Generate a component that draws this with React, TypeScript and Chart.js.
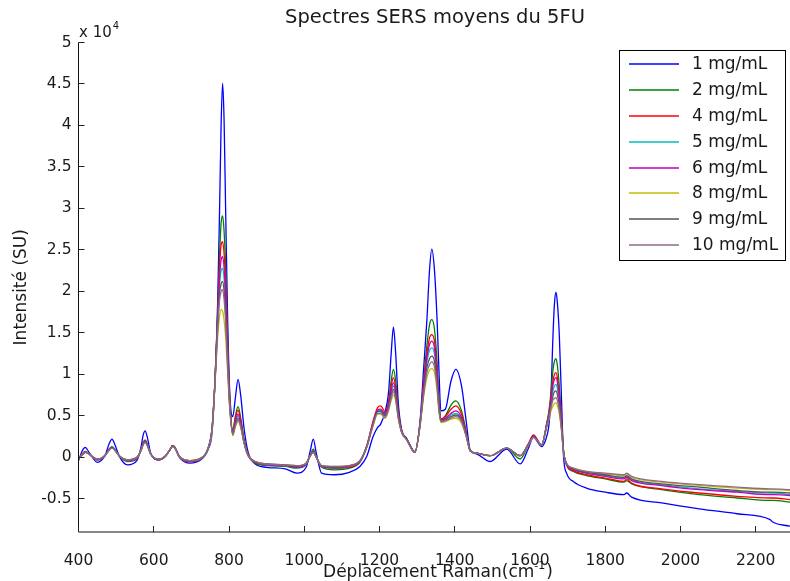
import React, { useEffect, useRef } from 'react';
import { Chart, registerables } from 'chart.js';

Chart.register(...registerables);

const TITLE = 'Spectres SERS moyens du 5FU';
const X_LABEL = 'Déplacement Raman(cm';
const X_LABEL_SUP = '-1';
const X_LABEL_END = ')';
const Y_LABEL = 'Intensité (SU)';
const Y_EXP_BASE = 'x 10';
const Y_EXP = '4';

const X_MIN = 400;
const X_MAX = 2291;
const X_STEP = 200;
const Y_MIN = -0.9;
const Y_MAX = 5;
const Y_STEP = 0.5;

// Raman shift (cm-1)
const RAMAN_SHIFT = [
  400, 410, 418, 428, 450, 470, 482, 489, 496, 510, 530, 555, 566, 572, 577, 583, 592, 612, 632, 644, 650, 656, 668, 696, 725,
  745, 755, 763, 770, 775, 779, 783, 787, 791, 796, 802, 810, 817, 824, 831, 840, 851,
  870, 900, 950, 980, 1005, 1016, 1024, 1032, 1046, 1080, 1120, 1148, 1166, 1183,
  1195, 1203, 1215, 1224, 1231, 1237, 1243, 1250, 1259, 1272, 1294,
  1308, 1317, 1326, 1333, 1339, 1346, 1353, 1358, 1363, 1375, 1390, 1403, 1418, 1430, 1441, 1459,
  1494, 1538, 1574, 1595, 1609, 1631, 1645, 1650, 1655, 1661, 1665, 1669, 1673, 1678, 1684, 1689, 1698,
  1715, 1750, 1800, 1850, 1857, 1870, 1950, 2050, 2150, 2238, 2245, 2291,
];

// Intensities in units of 10^4 SU
const I_1MG = [
  -0.04, 0.08, 0.12, 0.06, -0.06, 0.02, 0.17, 0.22, 0.16, 0.00, -0.09, -0.04, 0.12, 0.27, 0.32, 0.24, 0.05, -0.03, 0.02, 0.10, 0.13, 0.11, 0.00, -0.07, -0.03,
  0.10, 0.30, 0.95, 1.90, 3.00, 4.00, 4.51, 4.05, 3.00, 1.75, 0.78, 0.49, 0.72, 0.94, 0.75, 0.35, 0.06,
  -0.08, -0.12, -0.14, -0.19, -0.12, 0.08, 0.22, 0.05, -0.19, -0.21, -0.18, -0.11, 0.01, 0.25,
  0.36, 0.40, 0.55, 0.78, 1.25, 1.57, 1.25, 0.65, 0.33, 0.23, 0.07,
  0.45, 1.05, 1.66, 2.26, 2.51, 2.26, 1.66, 1.05, 0.56, 0.58, 0.92, 1.06, 0.86, 0.45, 0.09, 0.04,
  -0.05, 0.10, -0.08, 0.10, 0.24, 0.13, 0.26, 0.38, 0.66, 1.46, 1.85, 1.99, 1.85, 1.46, 0.66, 0.02, -0.20,
  -0.29, -0.37, -0.42, -0.45, -0.43, -0.48, -0.55, -0.62, -0.68, -0.75, -0.78, -0.83,
];
const I_2MG = [
  -0.02, 0.04, 0.07, 0.04, -0.03, 0.02, 0.10, 0.13, 0.10, 0.01, -0.05, -0.02, 0.09, 0.18, 0.21, 0.16, 0.04, -0.03, 0.02, 0.10, 0.14, 0.12, 0.01, -0.05, -0.02,
  0.12, 0.35, 0.95, 1.75, 2.45, 2.82, 2.91, 2.72, 2.30, 1.50, 0.72, 0.33, 0.50, 0.61, 0.48, 0.22, 0.03,
  -0.07, -0.10, -0.11, -0.13, -0.09, 0.03, 0.10, 0.01, -0.12, -0.15, -0.13, -0.06, 0.12, 0.40,
  0.56, 0.57, 0.52, 0.66, 0.92, 1.06, 0.92, 0.56, 0.32, 0.22, 0.06,
  0.42, 0.90, 1.35, 1.60, 1.66, 1.55, 1.15, 0.70, 0.46, 0.50, 0.63, 0.68, 0.56, 0.32, 0.08, 0.05,
  0.02, 0.11, -0.02, 0.14, 0.25, 0.15, 0.42, 0.55, 0.75, 1.05, 1.16, 1.19, 1.10, 0.85, 0.45, 0.09, -0.10,
  -0.17, -0.22, -0.26, -0.30, -0.28, -0.32, -0.39, -0.45, -0.49, -0.52, -0.52, -0.54,
];
const I_4MG = [
  -0.02, 0.04, 0.07, 0.04, -0.03, 0.02, 0.10, 0.12, 0.09, 0.01, -0.04, -0.01, 0.09, 0.17, 0.20, 0.15, 0.04, -0.03, 0.02, 0.10, 0.14, 0.12, 0.01, -0.05, -0.02,
  0.12, 0.36, 0.95, 1.72, 2.30, 2.56, 2.60, 2.45, 2.10, 1.40, 0.68, 0.31, 0.47, 0.57, 0.45, 0.20, 0.03,
  -0.06, -0.09, -0.10, -0.12, -0.08, 0.02, 0.08, 0.00, -0.11, -0.13, -0.12, -0.05, 0.14, 0.44,
  0.60, 0.62, 0.55, 0.66, 0.86, 0.96, 0.84, 0.54, 0.32, 0.22, 0.06,
  0.42, 0.88, 1.25, 1.44, 1.48, 1.40, 1.05, 0.66, 0.46, 0.49, 0.58, 0.62, 0.52, 0.30, 0.08, 0.05,
  0.02, 0.11, 0.02, 0.16, 0.27, 0.15, 0.42, 0.52, 0.70, 0.92, 1.00, 1.02, 0.95, 0.75, 0.40, 0.08, -0.10,
  -0.16, -0.21, -0.25, -0.29, -0.26, -0.31, -0.38, -0.43, -0.47, -0.49, -0.49, -0.51,
];
const I_5MG = [
  -0.02, 0.03, 0.06, 0.04, -0.03, 0.02, 0.09, 0.12, 0.09, 0.01, -0.04, -0.01, 0.09, 0.16, 0.19, 0.15, 0.04, -0.03, 0.02, 0.10, 0.14, 0.12, 0.01, -0.04, -0.02,
  0.11, 0.34, 0.93, 1.65, 2.08, 2.25, 2.28, 2.15, 1.85, 1.28, 0.64, 0.30, 0.42, 0.50, 0.40, 0.18, 0.02,
  -0.06, -0.09, -0.10, -0.12, -0.08, 0.02, 0.07, 0.00, -0.11, -0.13, -0.11, -0.05, 0.13, 0.41,
  0.56, 0.56, 0.51, 0.62, 0.78, 0.86, 0.76, 0.50, 0.31, 0.22, 0.06,
  0.40, 0.82, 1.15, 1.29, 1.32, 1.25, 0.95, 0.62, 0.45, 0.46, 0.51, 0.53, 0.46, 0.28, 0.08, 0.05,
  0.02, 0.11, 0.02, 0.15, 0.25, 0.15, 0.40, 0.49, 0.64, 0.80, 0.86, 0.88, 0.82, 0.66, 0.36, 0.07, -0.09,
  -0.14, -0.19, -0.22, -0.25, -0.23, -0.27, -0.33, -0.38, -0.41, -0.43, -0.43, -0.45,
];
const I_6MG = [
  -0.02, 0.03, 0.06, 0.04, -0.03, 0.02, 0.10, 0.12, 0.09, 0.01, -0.04, -0.01, 0.09, 0.17, 0.20, 0.15, 0.04, -0.03, 0.02, 0.10, 0.14, 0.12, 0.01, -0.04, -0.02,
  0.12, 0.35, 0.94, 1.68, 2.18, 2.38, 2.42, 2.28, 1.96, 1.33, 0.66, 0.30, 0.44, 0.52, 0.42, 0.19, 0.02,
  -0.06, -0.09, -0.10, -0.12, -0.08, 0.02, 0.07, 0.00, -0.11, -0.13, -0.11, -0.05, 0.13, 0.42,
  0.57, 0.58, 0.52, 0.64, 0.81, 0.90, 0.79, 0.52, 0.31, 0.22, 0.06,
  0.41, 0.85, 1.20, 1.36, 1.40, 1.32, 1.00, 0.64, 0.45, 0.47, 0.53, 0.56, 0.48, 0.29, 0.08, 0.05,
  0.02, 0.11, 0.02, 0.15, 0.26, 0.15, 0.41, 0.50, 0.67, 0.87, 0.94, 0.96, 0.90, 0.71, 0.38, 0.07, -0.09,
  -0.15, -0.19, -0.23, -0.26, -0.24, -0.28, -0.34, -0.39, -0.42, -0.45, -0.45, -0.46,
];
const I_8MG = [
  -0.01, 0.03, 0.06, 0.04, -0.02, 0.02, 0.09, 0.11, 0.09, 0.01, -0.03, 0.00, 0.08, 0.15, 0.18, 0.14, 0.04, -0.02, 0.02, 0.10, 0.13, 0.11, 0.01, -0.04, -0.01,
  0.11, 0.33, 0.90, 1.45, 1.70, 1.78, 1.76, 1.65, 1.45, 1.05, 0.58, 0.26, 0.37, 0.43, 0.36, 0.17, 0.02,
  -0.05, -0.08, -0.09, -0.10, -0.07, 0.02, 0.06, 0.00, -0.10, -0.11, -0.10, -0.04, 0.12, 0.38,
  0.52, 0.52, 0.47, 0.56, 0.68, 0.75, 0.68, 0.46, 0.30, 0.21, 0.06,
  0.38, 0.72, 0.96, 1.05, 1.07, 1.02, 0.80, 0.55, 0.42, 0.43, 0.46, 0.47, 0.41, 0.26, 0.08, 0.05,
  0.02, 0.11, 0.02, 0.14, 0.24, 0.15, 0.38, 0.45, 0.55, 0.62, 0.65, 0.66, 0.62, 0.52, 0.30, 0.06, -0.08,
  -0.13, -0.17, -0.20, -0.22, -0.20, -0.24, -0.30, -0.34, -0.37, -0.39, -0.39, -0.40,
];
const I_9MG = [
  -0.01, 0.03, 0.06, 0.04, -0.02, 0.02, 0.09, 0.12, 0.09, 0.01, -0.03, 0.00, 0.08, 0.16, 0.19, 0.14, 0.04, -0.02, 0.02, 0.10, 0.14, 0.12, 0.01, -0.04, -0.01,
  0.11, 0.34, 0.92, 1.60, 1.98, 2.09, 2.12, 2.00, 1.72, 1.18, 0.62, 0.28, 0.40, 0.47, 0.39, 0.18, 0.02,
  -0.05, -0.08, -0.09, -0.11, -0.07, 0.02, 0.06, 0.00, -0.10, -0.12, -0.10, -0.04, 0.13, 0.40,
  0.55, 0.55, 0.50, 0.60, 0.75, 0.82, 0.73, 0.49, 0.30, 0.22, 0.06,
  0.40, 0.78, 1.08, 1.19, 1.22, 1.16, 0.90, 0.59, 0.44, 0.45, 0.49, 0.51, 0.45, 0.27, 0.08, 0.05,
  0.02, 0.11, 0.02, 0.15, 0.25, 0.15, 0.39, 0.47, 0.60, 0.74, 0.79, 0.80, 0.75, 0.61, 0.34, 0.07, -0.08,
  -0.14, -0.18, -0.21, -0.24, -0.22, -0.26, -0.32, -0.36, -0.40, -0.42, -0.42, -0.43,
];
const I_10MG = [
  -0.01, 0.03, 0.06, 0.04, -0.02, 0.02, 0.09, 0.11, 0.09, 0.01, -0.03, 0.00, 0.08, 0.15, 0.18, 0.14, 0.04, -0.02, 0.02, 0.10, 0.13, 0.11, 0.01, -0.04, -0.01,
  0.11, 0.33, 0.91, 1.55, 1.90, 2.00, 2.02, 1.90, 1.64, 1.13, 0.60, 0.27, 0.38, 0.45, 0.37, 0.17, 0.02,
  -0.05, -0.08, -0.09, -0.10, -0.07, 0.02, 0.06, 0.00, -0.10, -0.11, -0.10, -0.04, 0.12, 0.39,
  0.53, 0.53, 0.48, 0.58, 0.71, 0.79, 0.70, 0.47, 0.30, 0.21, 0.06,
  0.39, 0.75, 1.02, 1.12, 1.15, 1.09, 0.85, 0.57, 0.43, 0.44, 0.47, 0.49, 0.43, 0.26, 0.08, 0.05,
  0.02, 0.11, 0.02, 0.14, 0.24, 0.15, 0.38, 0.46, 0.58, 0.69, 0.71, 0.72, 0.68, 0.56, 0.32, 0.06, -0.08,
  -0.13, -0.17, -0.19, -0.21, -0.19, -0.23, -0.29, -0.33, -0.36, -0.38, -0.38, -0.39,
];

const SERIES_LABELS = ['1 mg/mL', '2 mg/mL', '4 mg/mL', '5 mg/mL', '6 mg/mL', '8 mg/mL', '9 mg/mL', '10 mg/mL'];
const SERIES_VALUES = [I_1MG, I_2MG, I_4MG, I_5MG, I_6MG, I_8MG, I_9MG, I_10MG];
const SERIES_COLORS = ['#0000FF', '#008000', '#FF0000', '#00BFBF', '#BF00BF', '#BFBF00', '#555555', '#8C6A8C'];

const FONT = '"DejaVu Sans", sans-serif';
const TEXT_COLOR = '#1a1a1a';

const decorPlugin = {
  id: 'decor',
  afterDraw(chart: any) {
    const ctx = chart.ctx as CanvasRenderingContext2D;
    const { left, right, top, bottom } = chart.chartArea;
    const xs = chart.scales.x;
    const ys = chart.scales.y;
    ctx.save();

    // axes lines
    ctx.strokeStyle = '#111';
    ctx.lineWidth = 1;
    ctx.beginPath();
    ctx.moveTo(left, top);
    ctx.lineTo(left, bottom);
    ctx.moveTo(left, bottom);
    ctx.lineTo(right, bottom);
    ctx.stroke();

    // inward ticks
    ctx.strokeStyle = '#222';
    ctx.beginPath();
    ys.ticks.forEach((t: any) => {
      const y = Math.round(ys.getPixelForValue(t.value) - 0.5) + 0.5;
      ctx.moveTo(left, y);
      ctx.lineTo(left + 6, y);
    });
    xs.ticks.forEach((t: any) => {
      const x = Math.round(xs.getPixelForValue(t.value) - 0.5) + 0.5;
      ctx.moveTo(x, bottom);
      ctx.lineTo(x, bottom - 6);
    });
    ctx.stroke();

    ctx.fillStyle = TEXT_COLOR;
    // title
    ctx.font = `19.5px ${FONT}`;
    ctx.textAlign = 'center';
    ctx.textBaseline = 'middle';
    ctx.fillText(TITLE, 435, 18);

    // exponent label
    ctx.textAlign = 'left';
    ctx.textBaseline = 'alphabetic';
    ctx.font = `15px ${FONT}`;
    ctx.fillText(Y_EXP_BASE, 79, 37);
    const wBase = ctx.measureText(Y_EXP_BASE).width;
    ctx.font = `10px ${FONT}`;
    ctx.fillText(Y_EXP, 79 + wBase + 1, 29);

    // x label with superscript
    ctx.font = `17px ${FONT}`;
    const w1 = ctx.measureText(X_LABEL).width;
    const w3 = ctx.measureText(X_LABEL_END).width;
    ctx.font = `11px ${FONT}`;
    const w2 = ctx.measureText(X_LABEL_SUP).width;
    const total = w1 + w2 + w3 + 1;
    let xPos = 438 - total / 2;
    ctx.font = `17px ${FONT}`;
    ctx.fillText(X_LABEL, xPos, 577);
    xPos += w1;
    ctx.font = `11px ${FONT}`;
    ctx.fillText(X_LABEL_SUP, xPos, 569);
    xPos += w2 + 1;
    ctx.font = `17px ${FONT}`;
    ctx.fillText(X_LABEL_END, xPos, 577);

    // y label
    ctx.save();
    ctx.translate(22, (top + bottom) / 2);
    ctx.rotate(-Math.PI / 2);
    ctx.textAlign = 'center';
    ctx.textBaseline = 'middle';
    ctx.font = `17px ${FONT}`;
    ctx.fillText(Y_LABEL, 0, 0);
    ctx.restore();

    // legend
    const lx = 619.5, ly = 50.5, lw = 166, lh = 210;
    ctx.fillStyle = '#ffffff';
    ctx.fillRect(lx, ly, lw, lh);
    ctx.strokeStyle = '#000';
    ctx.lineWidth = 1;
    ctx.strokeRect(lx, ly, lw, lh);
    ctx.font = `17px ${FONT}`;
    ctx.textAlign = 'left';
    ctx.textBaseline = 'middle';
    SERIES_LABELS.forEach((lab, i) => {
      const y = Math.round(64.3 + i * 25.8);
      ctx.strokeStyle = SERIES_COLORS[i];
      ctx.lineWidth = 1.6;
      ctx.beginPath();
      ctx.moveTo(629, y);
      ctx.lineTo(679, y);
      ctx.stroke();
      ctx.fillStyle = TEXT_COLOR;
      ctx.fillText(lab, 692, y + 1);
    });

    ctx.restore();
  },
};

export default function App() {
  const canvasRef = useRef<HTMLCanvasElement | null>(null);

  useEffect(() => {
    const canvas = canvasRef.current;
    if (!canvas) return;
    const datasets = SERIES_VALUES.map((vals, i) => ({
      label: SERIES_LABELS[i],
      data: RAMAN_SHIFT.map((x, k) => ({ x, y: vals[k] })),
      borderColor: SERIES_COLORS[i],
      backgroundColor: SERIES_COLORS[i],
      borderWidth: 1.3,
      pointRadius: 0,
      fill: false,
      cubicInterpolationMode: 'monotone' as const,
      order: SERIES_VALUES.length - 1 - i,
    }));

    const chart = new Chart(canvas, {
      type: 'line',
      data: { datasets },
      plugins: [decorPlugin],
      options: {
        animation: false,
        responsive: false,
        devicePixelRatio: 1,
        layout: { padding: { top: 42.5, left: 0, right: 0, bottom: 0 } },
        plugins: {
          legend: { display: false },
          title: { display: false },
          tooltip: { enabled: false },
        },
        scales: {
          x: {
            type: 'linear',
            min: X_MIN,
            max: X_MAX,
            grid: { display: false, drawTicks: false },
            border: { display: false },
            ticks: {
              stepSize: X_STEP,
              includeBounds: false,
              autoSkip: false,
              maxRotation: 0,
              padding: 20,
              color: TEXT_COLOR,
              font: { family: FONT, size: 15.5 },
              callback: (v: any) => String(v),
            },
            afterFit: (s: any) => {
              s.height = 49;
              s.paddingLeft = 0;
              s.paddingRight = 0;
            },
          },
          y: {
            type: 'linear',
            min: Y_MIN,
            max: Y_MAX,
            grid: { display: false, drawTicks: false },
            border: { display: false },
            ticks: {
              stepSize: Y_STEP,
              includeBounds: false,
              padding: 7,
              color: TEXT_COLOR,
              font: { family: FONT, size: 15.5 },
              callback: (v: any) => String(Math.round(v * 10) / 10),
            },
            afterFit: (s: any) => { s.width = 78.5; },
          },
        },
      },
    });
    return () => chart.destroy();
  }, []);

  return (
    <div style={{ position: 'absolute', left: 0, top: 0, width: 790, height: 581, background: '#fff' }}>
      <canvas ref={canvasRef} width={790} height={581} />
    </div>
  );
}
